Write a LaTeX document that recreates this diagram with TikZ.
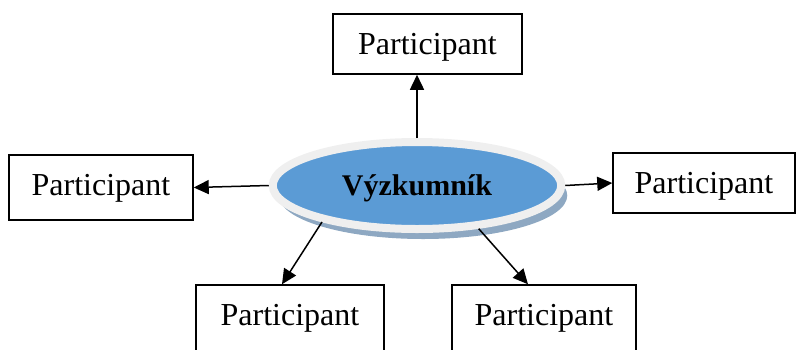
\documentclass[tikz,border=0pt]{standalone}
\usepackage{fontspec}
\setmainfont{Liberation Serif}
\usepackage{tikz}
\usetikzlibrary{positioning,arrows.meta,calc,shapes.geometric,shadows}
\definecolor{hubblue}{HTML}{5B9BD5}
\definecolor{hubrim}{HTML}{EFEFEF}
\definecolor{hubshade}{HTML}{8EA8C2}

\begin{document}
\begin{tikzpicture}[x=0.5pt, y=-0.5pt,
  partbox/.style={draw, line width=0.75pt, anchor=base, minimum width=93pt, inner xsep=0pt, inner ysep=0pt, text height=20pt, text depth=10pt, font=\fontsize{16}{19}\selectfont},
  arr/.style={-{Triangle[length=7.5pt,width=7pt]}, line width=0.75pt}]
\useasboundingbox (0,0) rectangle (798,349);
% researcher in the middle
\node[ellipse, fill=hubblue, draw=hubrim, line width=4pt, minimum width=144.25pt, minimum height=43.5pt, inner sep=0pt, text depth=0pt, general shadow={fill=hubshade, shadow xshift=3pt, shadow yshift=-5pt}, font=\fontsize{15}{18}\selectfont\bfseries] (res) at (417,185.5) {Výzkumník};
% participants
\node[partbox, minimum width=94.5pt] (ptop) at (427.5,54) {Participant};
\node[partbox, minimum width=92pt, text depth=12.5pt] (pleft) at (101,195) {Participant};
\node[partbox, minimum width=91pt] (pright) at (704,193) {Participant};
\node[partbox, minimum width=94pt, text depth=20pt] (pbl) at (290,325) {Participant};
\node[partbox, minimum width=92pt, text depth=20pt] (pbr) at (544,325) {Participant};
% arrows
\draw[arr] (res.north) -- (ptop.south -| res.north);
\draw[arr] (res.west) -- (pleft.east);
\draw[arr] (res.east) -- (pright.west);
\draw[arr] (res.201) -- ($(pbl.north)+(-8,0)$);
\draw[arr] (res.325) -- ($(pbr.north)+(-16,0)$);
\end{tikzpicture}
\end{document}
